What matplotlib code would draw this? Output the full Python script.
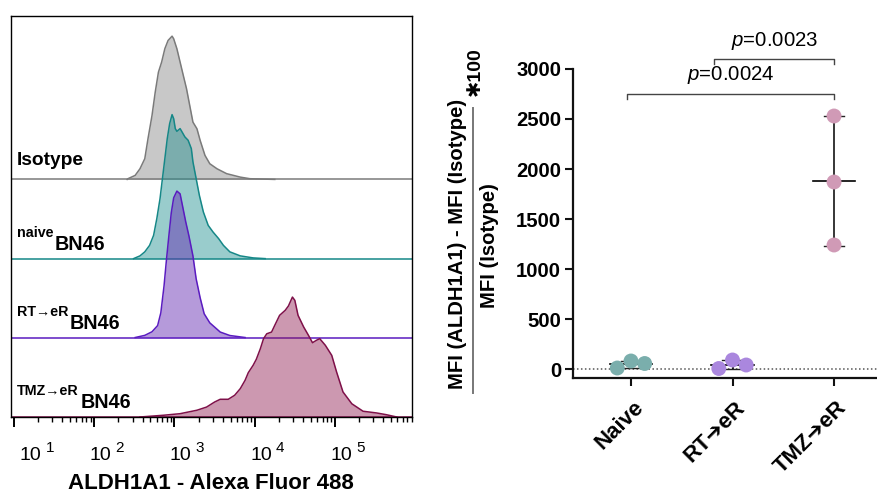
import numpy as np
import matplotlib
matplotlib.use('Agg')
import matplotlib.pyplot as plt
from matplotlib.lines import Line2D
import matplotlib.transforms as mtransforms

plt.rcParams['font.family'] = ['Liberation Sans', 'DejaVu Sans']
plt.rcParams['mathtext.fontset'] = 'custom'
plt.rcParams['mathtext.rm'] = 'Liberation Sans'
plt.rcParams['mathtext.it'] = 'Liberation Sans:italic'
plt.rcParams['mathtext.bf'] = 'Liberation Sans:bold'

# ---------------- histogram data (log10 intensity, height in % of isotype mode)
iso_logx = [2.41, 2.42, 2.51, 2.57, 2.63, 2.67, 2.72, 2.76, 2.80, 2.84, 2.88, 2.92, 2.97, 2.99,
            3.03, 3.07, 3.11, 3.15, 3.19, 3.23, 3.28, 3.32, 3.38, 3.44, 3.53, 3.65, 3.82, 3.94, 4.25]
iso_h = [0, 0.5, 2.8, 7.4, 14.4, 28.3, 44.4, 60.6, 74.5, 81.5, 90.8, 96.5, 99.5, 97.7,
         90.8, 81.5, 72.2, 63.0, 51.4, 39.8, 35.2, 27.1, 16.7, 10.9, 7.4, 4.0, 1.6, 0.5, 0]

naive_logx = [2.49, 2.57, 2.63, 2.69, 2.74, 2.78, 2.82, 2.85, 2.88, 2.91, 2.94, 2.97, 2.99, 3.01,
              3.03, 3.07, 3.09, 3.13, 3.17, 3.21, 3.23, 3.27, 3.31, 3.36, 3.42, 3.48, 3.55, 3.61,
              3.69, 3.82, 3.98, 4.13]
naive_h = [0, 1.9, 4.7, 9.2, 16.2, 27.8, 41.7, 55.6, 69.4, 83.3, 93.8, 100, 97.2, 90.3,
           88.4, 90.3, 88.4, 84.5, 82.2, 76.4, 67.2, 55.6, 44.0, 32.4, 23.1, 18.5, 13.9, 9.2,
           4.7, 1.9, 0.5, 0]

rt_logx = [2.51, 2.63, 2.72, 2.79, 2.83, 2.87, 2.90, 2.93, 2.96, 2.99, 3.03, 3.07, 3.10, 3.14,
           3.18, 3.23, 3.27, 3.32, 3.37, 3.44, 3.57, 3.69, 3.88]
rt_h = [0.2, 1.7, 4.2, 8.5, 17.4, 36.1, 54.2, 70.8, 86.8, 97.2, 101.9, 100, 91.7, 80.6,
        70.8, 56.9, 41.0, 27.8, 16.7, 10.4, 4.0, 1.6, 0.2]

tmz_logx = [2.57, 2.86, 3.07, 3.28, 3.40, 3.50, 3.57, 3.67, 3.75, 3.82, 3.88, 3.92, 3.98, 4.02,
            4.07, 4.11, 4.15, 4.21, 4.25, 4.31, 4.38, 4.42, 4.47, 4.50, 4.54, 4.61, 4.67, 4.72,
            4.77, 4.81, 4.88, 4.96, 5.02, 5.10, 5.21, 5.35, 5.52, 5.64, 5.77]
tmz_h = [0, 1.2, 2.3, 4.7, 6.9, 10.4, 12.3, 12.3, 15.1, 19.7, 25.5, 30.8, 35.9, 40.1,
         47.4, 54.4, 57.8, 59.0, 63.7, 70.6, 74.1, 77.1, 83.3, 81.0, 70.6, 62.5, 56.7, 51.6,
         53.3, 54.4, 49.8, 42.8, 31.3, 17.4, 9.2, 4.0, 2.8, 1.6, 0]

lane_sup = ['', 'naive', 'RT\u2192eR', 'TMZ\u2192eR']
lane_main = ['Isotype', 'BN46', 'BN46', 'BN46']
decades = [1, 2, 3, 4, 5]
hist_xlabel = 'ALDH1A1 - Alexa Fluor 488'

# ---------------- MFI data
groups = ['Naive', 'RT\u2794eR', 'TMZ\u2794eR']
naive_vals = [10, 80, 55]
rt_vals = [5, 90, 40]
tmz_vals = [2530, 1870, 1240]
comparisons = [(0, 2, '0.0024'), (1, 2, '0.0023')]
yticks = [0, 500, 1000, 1500, 2000, 2500, 3000]

# ---------------- styles
W, H = 878, 490
fig = plt.figure(figsize=(W / 100, H / 100), dpi=100)

def fx(px):
    return px / W

def fy(py):
    return 1 - py / H

lane_step = 55
hists = [(iso_logx, iso_h), (naive_logx, naive_h), (rt_logx, rt_h), (tmz_logx, tmz_h)]
fill_cols = [('#858585', 0.45), ('#1D8E8E', 0.45), ('#6228B1', 0.47), ('#8E1B50', 0.45)]
edge_cols = ['#7a7a7a', '#158787', '#5A1BC0', '#7E1049']

axh = fig.add_axes([fx(10.7), fy(417), fx(412) - fx(10.7), fy(16) - fy(417)])
axh.set_xscale('log')
axh.set_xlim(10 ** 0.959, 10 ** 5.96)
axh.set_ylim(0, 278.5)
for i, (lx, hh) in enumerate(hists):
    off = (3 - i) * lane_step
    x = 10 ** np.array(lx)
    y = off + np.array(hh)
    c, a = fill_cols[i]
    axh.fill_between(x, off, y, color=c, alpha=a, lw=0, zorder=2 + i)
    axh.plot(x, y, color=edge_cols[i], lw=1.1, zorder=2.5 + i)
    axh.axhline(off, color=edge_cols[i], lw=1.1, zorder=2.4 + i)

for s in axh.spines.values():
    s.set_linewidth(1.0)
    s.set_color('black')
    s.set_zorder(10)
axh.set_yticks([])
axh.tick_params(axis='x', which='major', length=7.5, width=1.4, direction='out', labelbottom=False)
axh.tick_params(axis='x', which='minor', length=3.8, width=1.0, direction='out', labelbottom=False)
axh.xaxis.set_major_locator(matplotlib.ticker.LogLocator(base=10, numticks=20))
axh.xaxis.set_minor_locator(matplotlib.ticker.LogLocator(base=10, subs=np.arange(2, 10), numticks=20))

# decade labels
for d in decades:
    shift = 12 if d == decades[0] else 4.5
    t = axh.annotate('10', xy=(10 ** d, 0), xycoords=('data', 'axes fraction'),
                     xytext=(shift, -31), textcoords='offset points', ha='center',
                     va='baseline', fontsize=14)
    axh.annotate(str(d), xy=(1, 1), xycoords=t, xytext=(3, -3.5), textcoords='offset points',
                 ha='left', va='baseline', fontsize=11)

# lane labels
trans = mtransforms.blended_transform_factory(axh.transAxes, axh.transData)
for i in range(4):
    off = (3 - i) * lane_step
    if lane_sup[i] == '':
        axh.text(0.0157, off + 9.7, lane_main[i], transform=trans, fontsize=13.8,
                 fontweight='bold', ha='left', va='baseline', zorder=20)
    else:
        sup = axh.text(0.0157, off + 15, lane_sup[i], transform=trans, fontsize=10.3,
                       fontweight='bold', ha='left', va='baseline', zorder=20)
        axh.annotate(lane_main[i], xy=(1, off + 6.3), xycoords=(sup, 'data'),
                     xytext=(1, 0), textcoords='offset points', fontsize=14.2,
                     fontweight='bold', ha='left', va='baseline', zorder=20)

fig.text(fx(211), fy(488.5), hist_xlabel, ha='center', va='baseline', fontsize=16,
         fontweight='bold')

# ---------------- right panel
axs = fig.add_axes([fx(573), fy(378), fx(878) - fx(573), fy(69) - fy(378)])
axs.set_xlim(-0.571, 2.433)
axs.set_ylim(-90, 3000)
for s in ['top', 'right']:
    axs.spines[s].set_visible(False)
for s in ['left', 'bottom']:
    axs.spines[s].set_linewidth(1.6)
    axs.spines[s].set_color('#111111')
axs.set_yticks(yticks)
axs.set_yticklabels([str(v) for v in yticks], fontsize=14.6, fontweight='bold')
axs.set_xticks(range(len(groups)))
axs.set_xticklabels([])
axs.tick_params(axis='both', length=5.5, width=1.5, color='#111111')
axs.tick_params(axis='y', pad=3)

axs.axhline(0, color='#555555', lw=1.1, ls=(0, (1, 1.6)), zorder=1)

point_cols = ['#7AAEAC', '#AA87DE', '#D09AB6']
all_vals = [naive_vals, rt_vals, tmz_vals]
spread = 0.135
diam_units = 140  # marker diameter in data units (~14 px)
for gi, vals in enumerate(all_vals):
    v = np.array(vals, dtype=float)
    m = v.mean()
    sd = v.std(ddof=1)
    axs.plot([gi, gi], [m - sd, m + sd], color='black', lw=1.1, zorder=2)
    axs.plot([gi - 0.1, gi + 0.1], [m + sd, m + sd], color='#222222', lw=1.0, zorder=2)
    axs.plot([gi - 0.1, gi + 0.1], [m - sd, m - sd], color='#222222', lw=1.0, zorder=2)
    axs.plot([gi - 0.21, gi + 0.21], [m, m], color='black', lw=1.2, zorder=2)
    crowded = (v.max() - v.min()) < diam_units
    n = len(v)
    offs = [(k - (n - 1) / 2) * spread if crowded else 0 for k in range(n)]
    axs.scatter(gi + np.array(offs), v, s=115, color=point_cols[gi], edgecolors='none',
                zorder=3, clip_on=False)

# group labels
for gi, g in enumerate(groups):
    axs.annotate(g, xy=(gi, 0), xycoords=('data', 'axes fraction'), xytext=(7, -19),
                 textcoords='offset points', ha='right', va='center', rotation=45,
                 rotation_mode='anchor', fontsize=16, fontweight='bold')

# significance brackets
br_y = [2750, 3095]
br_left_shift = [0.04, 0.18]
for k, (a, b, p) in enumerate(comparisons):
    y = br_y[k]
    x0 = a - br_left_shift[k]
    x1 = b
    axs.plot([x0, x0, x1, x1], [y - 50, y, y, y - 50], color='#444444', lw=1.0,
             clip_on=False)
    axs.text((x0 + x1) / 2, y + 75, '$p$=' + p, ha='center', va='bottom', fontsize=14.7,
             clip_on=False)

# y label as a fraction
fig.text(fx(457.5), fy(244), 'MFI (ALDH1A1) - MFI (Isotype)', rotation=90, ha='center',
         va='center', fontsize=14.6, fontweight='bold')
fig.text(fx(490), fy(245.5), 'MFI (Isotype)', rotation=90, ha='center', va='center',
         fontsize=14.6, fontweight='bold')
fig.add_artist(Line2D([fx(473), fx(473)], [fy(393), fy(108)], color='#777777', lw=1.4))
fig.text(fx(475), fy(72), '\u2731100', rotation=90, ha='center', va='center', fontsize=14,
         fontweight='bold')

fig.savefig('out.png', dpi=100)
